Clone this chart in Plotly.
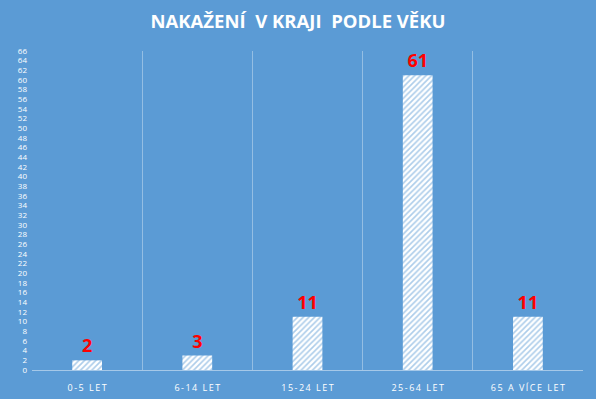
import plotly.graph_objects as go

categories = ["0-5 LET", "6-14 LET", "15-24 LET", "25-64 LET", "65 A VÍCE LET"]
values = [2, 3, 11, 61, 11]
title_text = "NAKAŽENÍ  V KRAJI  PODLE VĚKU"

BG = "#5b9bd5"

def spaced(s, sep="\u2009"):
    return sep.join(list(s))

fig = go.Figure(go.Bar(
    x=categories,
    y=values,
    width=0.27,
    marker=dict(
        color="white",
        line=dict(width=0),
        pattern=dict(shape="/", fgcolor=BG, bgcolor="white", size=4, solidity=0.4),
    ),
    text=["<b>%d</b>" % v for v in values],
    textposition="outside",
    textfont=dict(color="#ff0000", size=18, family="Open Sans"),
    cliponaxis=False,
))

fig.update_layout(
    width=596, height=399,
    paper_bgcolor=BG, plot_bgcolor=BG,
    margin=dict(l=32, r=13, t=51, b=29),
    title=dict(text="<b>" + title_text + "</b>", x=0.5, xanchor="center", y=0.945, yanchor="middle",
               font=dict(color="white", size=18.5, family="Open Sans")),
    showlegend=False,
    font=dict(family="Open Sans", color="white"),
)
fig.update_xaxes(
    type="category",
    automargin=False,
    tickson="boundaries",
    showgrid=True, gridcolor="rgba(255,255,255,0.35)", gridwidth=1,
    showline=True, linecolor="rgba(255,255,255,0.45)", linewidth=1,
    ticks="", ticklabelstandoff=9,
    tickvals=categories,
    ticktext=[spaced(c) for c in categories],
    tickfont=dict(size=9, color="white"),
)
fig.update_yaxes(
    automargin=False,
    range=[0, 66], dtick=2, tick0=0,
    showgrid=False, zeroline=False, showline=False,
    ticks="", ticklabelstandoff=4,
    tickfont=dict(size=8, color="white", family="Open Sans"),
)

fig.write_html("out.html")
